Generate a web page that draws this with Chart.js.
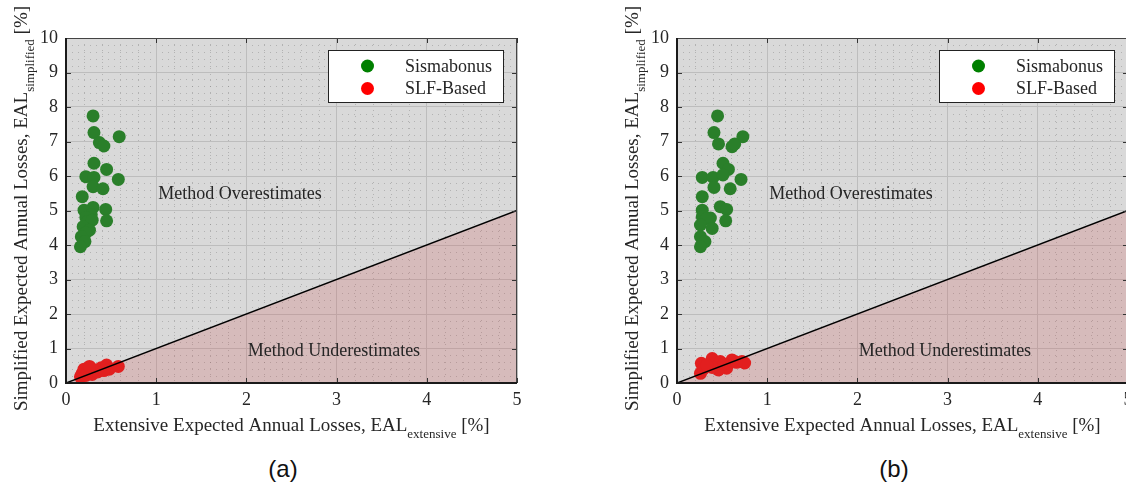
<!DOCTYPE html>
<html><head><meta charset="utf-8">
<script src="https://cdn.jsdelivr.net/npm/chart.js@4.4.0/dist/chart.umd.min.js"></script>
<style>
html,body{margin:0;padding:0;background:#fff;overflow:hidden;width:1126px;height:491px;position:relative;}
.panel{position:absolute;top:0;width:611px;height:450px;}
.lab{position:absolute;top:455px;font:24px "Liberation Sans",Arial,sans-serif;color:#111;text-align:center;width:100px;}
</style></head><body>
<div class="panel" style="left:0"><canvas id="ca" width="611" height="450"></canvas></div>
<div class="panel" style="left:611px"><canvas id="cb" width="611" height="450"></canvas></div>
<div class="lab" style="left:233px">(a)</div>
<div class="lab" style="left:844px">(b)</div>
<script>
// ---------- data ----------
const seriesNames = ['Sismabonus', 'SLF-Based'];
const xTickValues = [0, 1, 2, 3, 4, 5];
const yTickValues = [0, 1, 2, 3, 4, 5, 6, 7, 8, 9, 10];
const refLineX = [0, 5];
const refLineY = [0, 5];
const regionTexts = ['Method Overestimates', 'Method Underestimates'];
const regionTextX = [1.93, 2.97];
const regionTextY = [5.48, 0.93];

// panel (a)
const sismaA_x = [0.30,0.31,0.59,0.37,0.42,0.31,0.45,0.22,0.31,0.58,0.30,0.41,0.18,0.30,0.44,0.20,0.28,0.22,0.45,0.24,0.29,0.19,0.26,0.22,0.17,0.21,0.16];
const sismaA_y = [7.74,7.26,7.14,6.97,6.87,6.37,6.19,5.98,5.96,5.90,5.69,5.63,5.40,5.09,5.03,5.01,4.88,4.80,4.70,4.68,4.72,4.53,4.43,4.35,4.24,4.10,3.95];
const slfA_x = [0.16,0.18,0.20,0.24,0.27,0.29,0.31,0.35,0.39,0.45,0.48,0.58,0.22,0.26,0.42];
const slfA_y = [0.18,0.28,0.40,0.32,0.45,0.25,0.38,0.32,0.44,0.52,0.40,0.48,0.22,0.48,0.36];

// panel (b)
const sismaB_x = [0.45,0.41,0.73,0.46,0.61,0.64,0.51,0.57,0.28,0.40,0.51,0.71,0.41,0.59,0.28,0.48,0.55,0.28,0.54,0.37,0.28,0.33,0.26,0.39,0.26,0.31,0.26];
const sismaB_y = [7.74,7.26,7.14,6.93,6.85,6.93,6.37,6.19,5.96,5.96,6.03,5.90,5.67,5.63,5.40,5.11,5.03,5.01,4.70,4.78,4.82,4.77,4.58,4.48,4.24,4.10,3.95];
const slfB_x = [0.27,0.39,0.26,0.29,0.48,0.55,0.61,0.72,0.75,0.46,0.39,0.66,0.33,0.52];
const slfB_y = [0.57,0.71,0.28,0.40,0.62,0.43,0.67,0.62,0.58,0.38,0.45,0.60,0.52,0.55];

// ---------- styling ----------
const SERIF = '"Liberation Serif","Times New Roman",serif';
const TXT = '#262626';
const ptColors = ['#2a7f2a', '#e21f1f'];
const legendColors = ['#008000', '#ff0000'];

const zip = (xs, ys) => xs.map((x, i) => ({x: x, y: ys[i]}));

function drawRich(ctx, parts) {
  let w = 0;
  parts.forEach(p => { ctx.font = p.size + 'px ' + SERIF; w += ctx.measureText(p.t).width; });
  let x = -w / 2;
  parts.forEach(p => {
    ctx.font = p.size + 'px ' + SERIF;
    ctx.fillText(p.t, x, p.dy || 0);
    x += ctx.measureText(p.t).width;
  });
}

const decoPlugin = {
  id: 'deco',
  beforeDraw(chart) {
    const {ctx, chartArea: a, scales} = chart;
    const xs = scales.x, ys = scales.y;
    ctx.save();
    ctx.fillStyle = '#d9d9d9';
    ctx.fillRect(a.left, a.top, a.right - a.left, a.bottom - a.top);
    // minor dotted grid
    ctx.strokeStyle = 'rgba(120,120,120,0.4)';
    ctx.lineWidth = 1;
    ctx.setLineDash([1, 5]);
    for (let i = 1; i < 25; i++) {
      if (i % 5 === 0) continue;
      const px = Math.round(xs.getPixelForValue(i / 5)) + 0.5;
      ctx.beginPath(); ctx.moveTo(px, a.top); ctx.lineTo(px, a.bottom); ctx.stroke();
    }
    for (let i = 1; i < 50; i++) {
      if (i % 5 === 0) continue;
      const py = Math.round(ys.getPixelForValue(i / 5)) + 0.5;
      ctx.beginPath(); ctx.moveTo(a.left, py); ctx.lineTo(a.right, py); ctx.stroke();
    }
    ctx.restore();
  },
  afterDatasetsDraw(chart) {
    const {ctx, chartArea: a, scales} = chart;
    const xs = scales.x, ys = scales.y;
    ctx.save();
    ctx.fillStyle = TXT;
    ctx.font = '18px ' + SERIF;
    ctx.textAlign = 'center';
    ctx.textBaseline = 'middle';
    regionTexts.forEach((t, i) => ctx.fillText(t, xs.getPixelForValue(regionTextX[i]), ys.getPixelForValue(regionTextY[i])));
    ctx.strokeStyle = '#333';
    ctx.lineWidth = 1;
    xTickValues.forEach(v => {
      const px = Math.round(xs.getPixelForValue(v)) + 0.5;
      ctx.beginPath(); ctx.moveTo(px, a.bottom); ctx.lineTo(px, a.bottom - 5);
      ctx.moveTo(px, a.top); ctx.lineTo(px, a.top + 5); ctx.stroke();
    });
    yTickValues.forEach(v => {
      const py = Math.round(ys.getPixelForValue(v)) + 0.5;
      ctx.beginPath(); ctx.moveTo(a.left, py); ctx.lineTo(a.left + 5, py);
      ctx.moveTo(a.right, py); ctx.lineTo(a.right - 5, py); ctx.stroke();
    });
    ctx.strokeStyle = '#444';
    ctx.lineWidth = 1;
    ctx.beginPath();
    ctx.moveTo(a.left, a.top + 0.5); ctx.lineTo(a.right - 0.5, a.top + 0.5); ctx.lineTo(a.right - 0.5, a.bottom);
    ctx.stroke();
    ctx.strokeStyle = '#1a1a1a';
    ctx.lineWidth = 2;
    ctx.beginPath();
    ctx.moveTo(a.left, a.top); ctx.lineTo(a.left, a.bottom); ctx.lineTo(a.right, a.bottom);
    ctx.stroke();
    ctx.restore();
  },
  afterDraw(chart) {
    const {ctx, chartArea: a} = chart;
    ctx.save();
    const lx = a.left + 262, ly = a.top + 12, lw = 176, lh = 53;
    ctx.fillStyle = '#fff';
    ctx.fillRect(lx, ly, lw, lh);
    ctx.strokeStyle = '#222';
    ctx.lineWidth = 1;
    ctx.strokeRect(lx + 0.5, ly + 0.5, lw - 1, lh - 1);
    seriesNames.forEach((n, i) => {
      const cy = ly + 16 + i * 22.5;
      ctx.fillStyle = legendColors[i];
      ctx.beginPath(); ctx.arc(lx + 39.5, cy, 6.5, 0, Math.PI * 2); ctx.fill();
      ctx.fillStyle = TXT;
      ctx.font = '18px ' + SERIF;
      ctx.textAlign = 'left';
      ctx.textBaseline = 'middle';
      ctx.fillText(n, lx + 77, cy + 1);
    });
    ctx.fillStyle = TXT;
    ctx.textAlign = 'left';
    ctx.textBaseline = 'alphabetic';
    ctx.save();
    ctx.translate((a.left + a.right) / 2, 431);
    drawRich(ctx, [
      {t: 'Extensive Expected Annual Losses, EAL', size: 19},
      {t: 'extensive', size: 13, dy: 7},
      {t: ' [%]', size: 19}
    ]);
    ctx.restore();
    ctx.save();
    ctx.translate(27, (a.top + a.bottom) / 2 - 2);
    ctx.rotate(-Math.PI / 2);
    drawRich(ctx, [
      {t: 'Simplified Expected Annual Losses, EAL', size: 19},
      {t: 'simplified', size: 13, dy: 7},
      {t: ' [%]', size: 19}
    ]);
    ctx.restore();
    ctx.restore();
  }
};

function makeChart(id, gx, gy, rx, ry) {
  const pointDs = (label, data, color) => ({
    type: 'scatter', label: label, data: data,
    backgroundColor: color, borderColor: color, borderWidth: 0,
    pointRadius: 6.5, pointHoverRadius: 6.5, order: 1, clip: false
  });
  return new Chart(document.getElementById(id), {
    type: 'scatter',
    data: {
      datasets: [
        pointDs(seriesNames[0], zip(gx, gy), ptColors[0]),
        pointDs(seriesNames[1], zip(rx, ry), ptColors[1]),
        {
          type: 'line', label: 'y = x', data: zip(refLineX, refLineY),
          borderColor: '#000', borderWidth: 1.5, pointRadius: 0,
          fill: 'origin', backgroundColor: 'rgba(205,70,70,0.2)', order: 0
        }
      ]
    },
    options: {
      responsive: false, animation: false,
      layout: {padding: {top: 38, right: 94, left: 0, bottom: 0}},
      plugins: {legend: {display: false}, tooltip: {enabled: false}, filler: {drawTime: 'beforeDatasetsDraw'}},
      scales: {
        x: {
          type: 'linear', min: 0, max: 5,
          afterBuildTicks: s => { s.ticks = xTickValues.map(v => ({value: v})); },
          afterFit: s => { s.height = 67; },
          ticks: {font: {family: SERIF, size: 18}, color: TXT, padding: 6, maxRotation: 0},
          grid: {color: '#bdbdbd', lineWidth: 1, drawTicks: false},
          border: {display: false}
        },
        y: {
          type: 'linear', min: 0, max: 10,
          afterBuildTicks: s => { s.ticks = yTickValues.map(v => ({value: v})); },
          afterFit: s => { s.width = 66; },
          ticks: {font: {family: SERIF, size: 18}, color: TXT, padding: 8},
          grid: {color: '#bdbdbd', lineWidth: 1, drawTicks: false},
          border: {display: false}
        }
      }
    },
    plugins: [decoPlugin]
  });
}

makeChart('ca', sismaA_x, sismaA_y, slfA_x, slfA_y);
makeChart('cb', sismaB_x, sismaB_y, slfB_x, slfB_y);
</script>
</body></html>
